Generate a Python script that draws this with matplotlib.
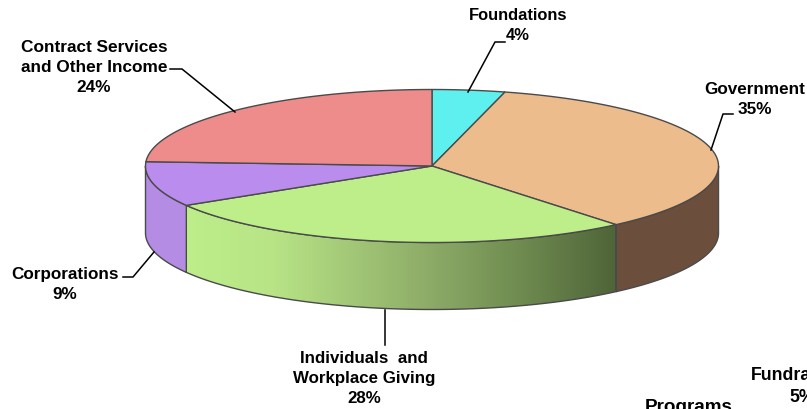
from __future__ import annotations

import matplotlib

matplotlib.use("Agg")

import matplotlib.pyplot as plt
import numpy as np
from matplotlib.colors import LinearSegmentedColormap
from matplotlib.patches import Polygon

# slices clockwise from twelve o'clock, shares measured on the ellipse
names = ["Foundations", "Government", "Individuals", "Corporations", "Contract"]
shares = [4.1, 34.8, 27.5, 9.5, 24.1]
top_colors = ["#5DF0EE", "#EDBC8C", "#BDEE8A", "#BA8CEE", "#EE8C8C"]
side_colors = {"Government": "#6B4F3C", "Corporations": "#B48CE4"}

label_texts = [
    "Foundations\n4%",
    "Government\n35%",
    "Individuals  and\nWorkplace Giving\n28%",
    "Corporations\n9%",
    "Contract Services\nand Other Income\n24%",
    "Fundraising\n5%",
    "Programs",
]
label_x = [518, 755, 364, 65, 94, 802, 689]
label_y = [8, 82, 351, 267, 40, 367, 408]
label_sizes = [11.9, 12.3, 12.2, 12.3, 12.4, 12.8, 13.6]

leader_x = [[468, 495, 505], [711, 723, 733], [385, 385], [154, 133, 123], [235, 182, 170]]
leader_y = [[92, 42, 42], [150, 114, 114], [310, 345], [252, 277, 277], [112, 69, 69]]

CX, CY = 432, 166
RX, RY = 286.5, 76.5
DEPTH = 67
EDGE = "#4A4A4A"

green_stops = [0.0, 0.2, 0.55, 0.78, 1.0]
green_cols = ["#BDEE8A", "#B8E486", "#8FAE69", "#6F8B50", "#4F6438"]


def ellipse_pts(start: float, end: float, drop: float = 0.0) -> np.ndarray:
    theta = np.radians(np.linspace(start, end, 120))
    return np.column_stack([CX + RX * np.sin(theta), CY + drop - RY * np.cos(theta)])


def draw_side(ax, name: str, start: float, end: float) -> None:
    lo, hi = max(start, 90.0), min(end, 270.0)
    if lo >= hi:
        return
    pts = np.vstack([ellipse_pts(lo, hi), ellipse_pts(lo, hi, DEPTH)[::-1]])
    if name == "Individuals":
        cmap = LinearSegmentedColormap.from_list("green", list(zip(green_stops, green_cols)))
        poly = Polygon(pts, closed=True, fc="none", ec=EDGE, lw=1.0, zorder=3)
        ax.add_patch(poly)
        x0, x1 = pts[:, 0].min(), pts[:, 0].max()
        img = ax.imshow(
            np.linspace(0, 1, 256).reshape(1, -1),
            cmap=cmap,
            extent=(x0, x1, pts[:, 1].max(), pts[:, 1].min()),
            aspect="auto",
            zorder=2,
        )
        img.set_clip_path(poly)
    else:
        ax.add_patch(Polygon(pts, closed=True, fc=side_colors[name], ec=EDGE, lw=1.0, zorder=3))


def main() -> None:
    fig = plt.figure(figsize=(8.07, 4.09), dpi=100)
    ax = fig.add_axes([0, 0, 1, 1])

    edges = np.cumsum([0.0] + shares) / sum(shares) * 360.0
    for i, name in enumerate(names):
        draw_side(ax, name, edges[i], edges[i + 1])
    for i, color in enumerate(top_colors):
        pts = np.vstack([[CX, CY], ellipse_pts(edges[i], edges[i + 1])])
        ax.add_patch(Polygon(pts, closed=True, fc=color, ec=EDGE, lw=1.0, zorder=4))

    for xs, ys in zip(leader_x, leader_y):
        ax.plot(xs, ys, color="black", lw=1.1, zorder=5)

    for text, x, y, size in zip(label_texts, label_x, label_y, label_sizes):
        ax.text(
            x,
            y,
            text,
            ha="center",
            va="center" if "\n" not in text else "top",
            fontsize=size,
            fontweight="bold",
            family="Liberation Sans",
            linespacing=1.4,
            clip_on=False,
        )

    ax.set_xlim(0, 807)
    ax.set_ylim(409, 0)
    ax.axis("off")
    fig.savefig("out.png", dpi=100)
    plt.close(fig)


if __name__ == "__main__":
    main()
